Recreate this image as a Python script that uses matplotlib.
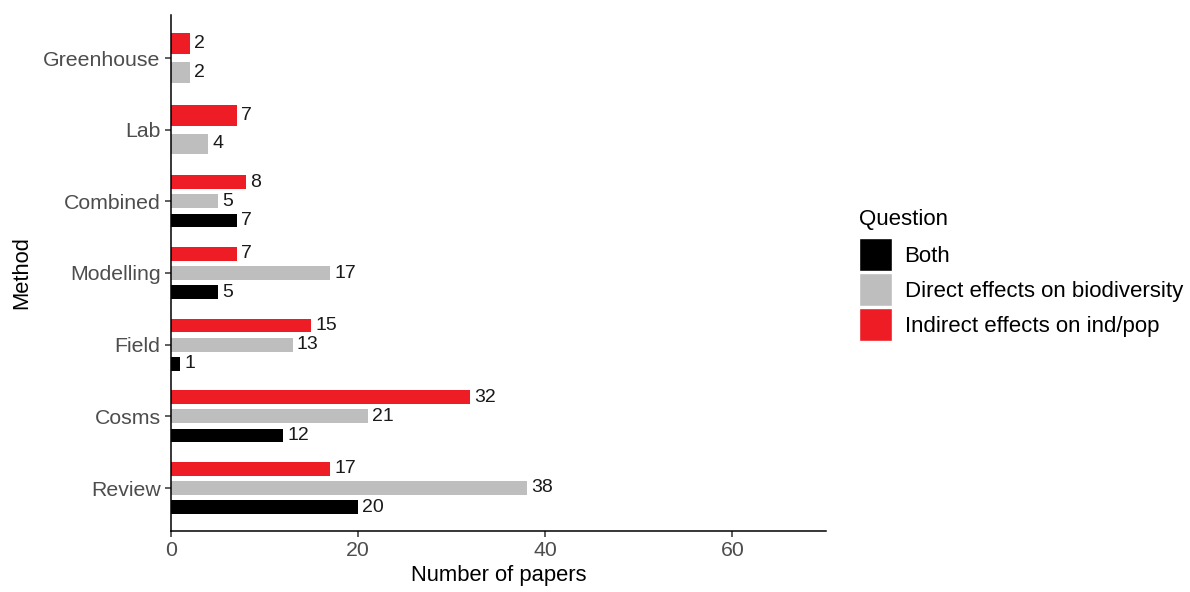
import numpy as np
import matplotlib
matplotlib.use("Agg")
import matplotlib.pyplot as plt
from matplotlib.patches import Patch

plt.rcParams['font.family'] = ['Liberation Sans', 'DejaVu Sans']

methods = ['Review', 'Cosms', 'Field', 'Modelling', 'Combined', 'Lab', 'Greenhouse']
questions = ['Both', 'Direct effects on biodiversity', 'Indirect effects on ind/pop']
colors = ['#000000', '#BEBEBE', '#EE1C25']

# None = no papers in that group (bar absent)
both = [20, 12, 1, 5, 7, None, None]
direct = [38, 21, 13, 17, 5, 4, 2]
indirect = [17, 32, 15, 7, 8, 7, 2]

series = [both, direct, indirect]

fig = plt.figure(figsize=(11.9, 5.92), dpi=100)
ax = fig.add_axes([171 / 1190, 1 - 531 / 592, (826 - 171) / 1190, (531 - 15) / 592])

dodge = 0.8
for i, m in enumerate(methods):
    present = [k for k in range(3) if series[k][i] is not None]
    n = len(present)
    slot = dodge / n
    for j, k in enumerate(present):
        # bottom-to-top order: Both, Direct, Indirect
        y = i - dodge / 2 + slot * (j + 0.5)
        v = series[k][i]
        ax.barh(y, v, height=slot * 0.72, color=colors[k], linewidth=0)
        ax.text(v + 0.45, y, str(v), ha='left', va='center', fontsize=14, color='#1a1a1a')

ax.set_xlim(0, 70)
ax.set_ylim(-0.6, 6.6)
ax.set_xticks([0, 20, 40, 60])
ax.set_yticks(range(len(methods)))
ax.set_yticklabels(methods)
ax.tick_params(axis='both', labelsize=15.3, labelcolor='#4D4D4D', color='#333333', length=4, width=1.1)
for s in ['top', 'right']:
    ax.spines[s].set_visible(False)
for s in ['left', 'bottom']:
    ax.spines[s].set_linewidth(1.1)
    ax.spines[s].set_color('black')

ax.set_xlabel('Number of papers', fontsize=15.8, labelpad=3)
ax.set_ylabel('Method', fontsize=15.8, labelpad=8)

handles = [Patch(facecolor=c, edgecolor='white', linewidth=1) for c in colors]
leg = fig.legend(
    handles, questions,
    title='Question',
    loc='upper left',
    bbox_to_anchor=(859 / 1190, 1 - 209 / 592),
    frameon=False,
    fontsize=16,
    title_fontsize=16,
    handlelength=1.5,
    handleheight=1.9,
    handletextpad=0.55,
    labelspacing=0.09,
    borderpad=0,
    borderaxespad=0,
    alignment='left',
)
# a bit more room between the title and the keys
leg._legend_box.sep = 6

plt.savefig('out.png', dpi=100)
